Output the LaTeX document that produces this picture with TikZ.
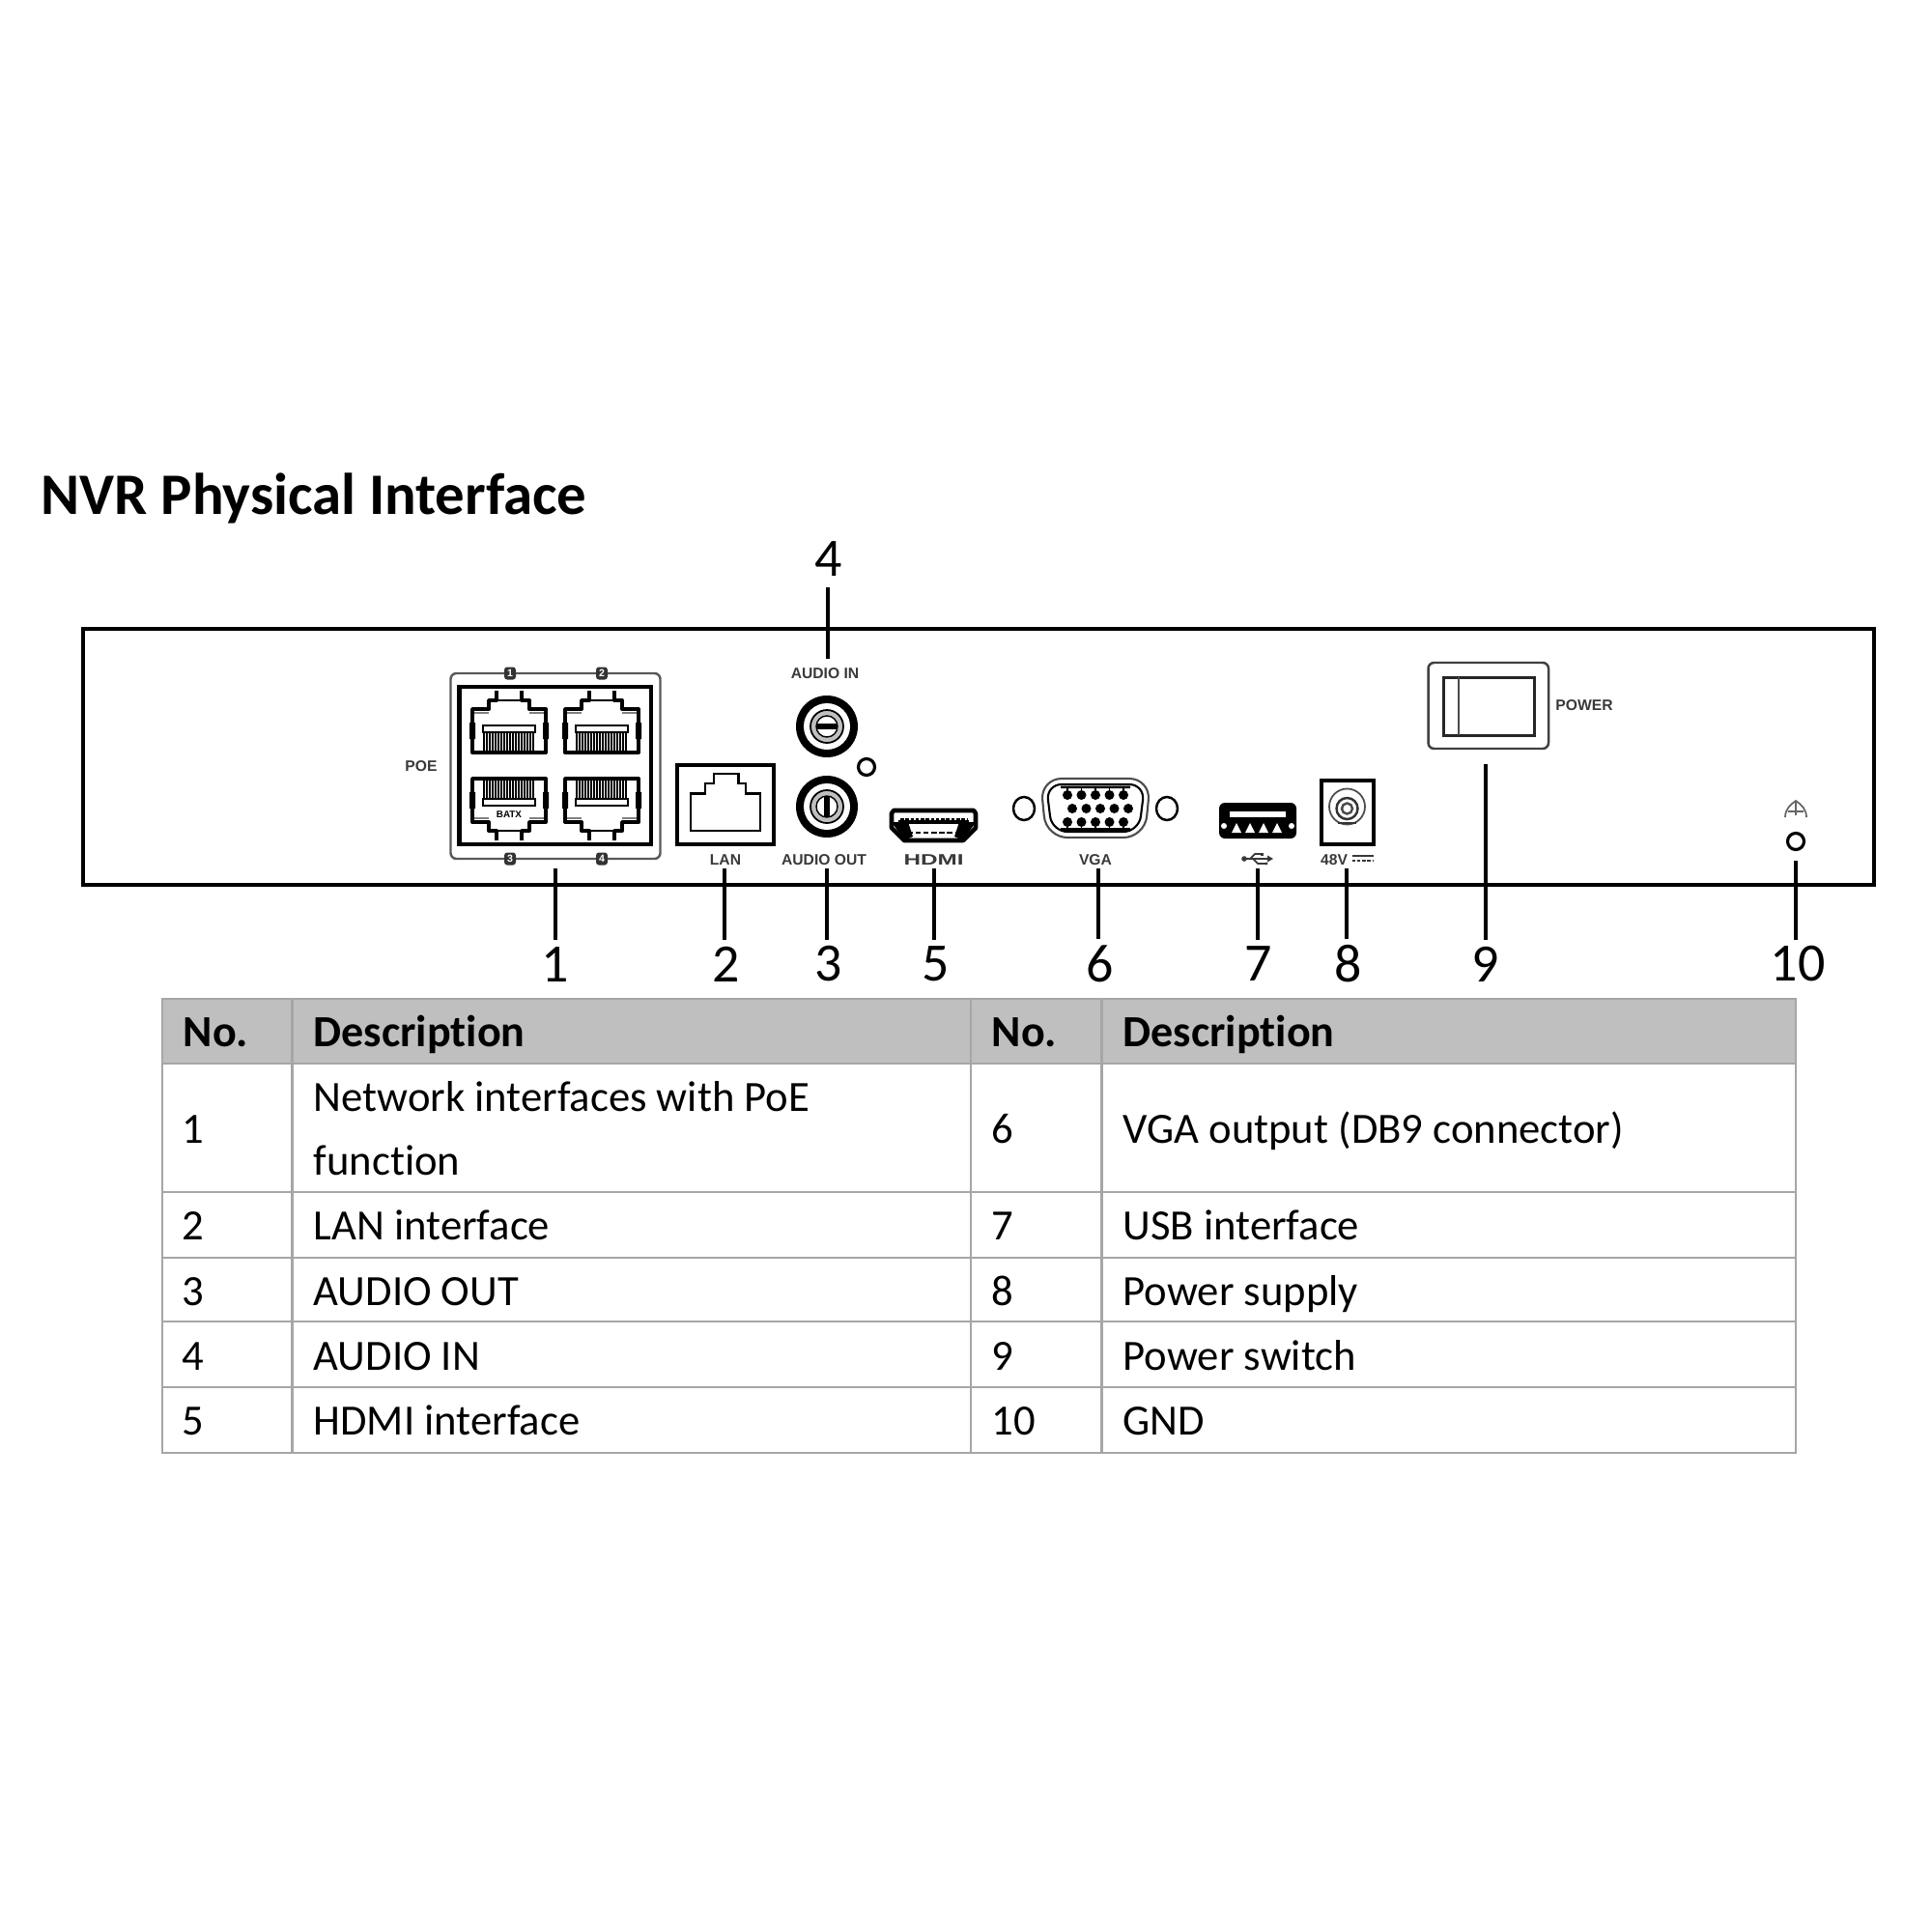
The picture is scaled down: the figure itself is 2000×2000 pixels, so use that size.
\documentclass[tikz,border=0pt]{standalone}
\usepackage{fontspec}
\setmainfont{Carlito}[Ligatures=NoCommon]
\newfontfamily\plate{Liberation Sans}
\usetikzlibrary{positioning}
\definecolor{platetext}{HTML}{3C3838}
\definecolor{rulegray}{HTML}{A6A6A6}
\definecolor{headgray}{HTML}{BFBFBF}

\tikzset{
  rjport/.pic={
    \draw[black,line width=1.1pt,line join=round] (-13,-32) -- (-13,-22) -- (-21,-22) -- (-21,-13) -- (-38,-13)
      -- (-38,32) -- (38,32) -- (38,-13) -- (21,-13) -- (21,-22) -- (13,-22) -- (13,-32);
    \draw[black,line width=.6pt] (-13,-22) -- (13,-22);
    \draw[gray,line width=.7pt] (-36,-9) -- (-21,-9) (21,-9) -- (36,-9);
    \fill[black] (-41,1) rectangle (-35,18) (35,1) rectangle (41,18);
    \draw[black,line width=.6pt] (-27,4) rectangle (27,11);
    \foreach \p in {-26,-23,...,26}
      \draw[black,line width=.62pt] (\p,11) -- (\p,30);
  },
  jack/.pic={
    \fill[black] (0,0) circle (32);
    \fill[white] (0,0) circle (24);
    \filldraw[fill=gray!50,draw=black,line width=.5pt] (0,0) circle (17);
    \filldraw[fill=white,draw=black,line width=.4pt] (0,0) circle (11);
    \fill[black] (-11,-3) rectangle (11,3);
  },
}

\begin{document}
\begin{tikzpicture}[
  x=0.01cm,y=-0.01cm,
  panel/.style={draw=black,line width=1.2pt},
  darkline/.style={draw=black,line width=1.3pt},
  softline/.style={draw=black!75,line width=.7pt,rounded corners=.6mm},
  ring/.style={draw=black,line width=.9pt},
  leader/.style={draw=black,line width=1.05pt},
  num/.style={font=\fontsize{15.9}{16}\selectfont,inner sep=0pt,outer sep=.07cm},
  tag/.style={font=\plate\bfseries\fontsize{4.45}{5}\selectfont,text=platetext,inner sep=0pt},
  portno/.style={font=\plate\bfseries\fontsize{3}{3}\selectfont,text=white,fill=black!80,rounded corners=.3mm,
    inner sep=0pt,minimum width=.12cm,minimum height=.13cm},
  cell/.style={font=\fontsize{12.7}{13}\selectfont,anchor=base west,inner sep=0pt},
  headcell/.style={cell,font=\bfseries\fontsize{13.1}{14}\selectfont},
  tabline/.style={draw=rulegray,line width=.75pt},
]
\useasboundingbox (0,0) rectangle (2000,2000);

\node (title) [anchor=base west,inner sep=0pt,font=\bfseries\fontsize{17.3}{18}\selectfont] at (42,532) {NVR Physical Interface};

\draw[panel] (86,651) rectangle (1940,916);

% poe block
\draw[softline,draw=black!65] (466.5,697) rectangle (683.5,889);
\draw[darkline] (475.5,711) rectangle (674,874);
\pic at (527,747) {rjport};
\pic at (623,747) {rjport};
\pic[yscale=-1] at (527,838) {rjport};
\pic[yscale=-1] at (623,838) {rjport};
\node (batx) [font=\plate\bfseries\fontsize{2.8}{3}\selectfont,fill=white,inner sep=.3pt] at (527,843) {BATX};
\node (poe1) [portno] at (528,697) {1};
\node (poe2) [portno] at (623,697) {2};
\node (poe3) [portno] at (528,889) {3};
\node (poe4) [portno] at (623,889) {4};
\node (poe) [tag] at (436,793) {POE};

% lan
\draw[darkline] (701,792) rectangle (801,874);
\draw[black,line width=.7pt] (715,821.5) -- (730,821.5) -- (730,811) -- (739,811) -- (739,801) -- (764.5,801)
  -- (764.5,811) -- (772,811) -- (772,821.5) -- (787,821.5) -- (787,860) -- (715,860) -- cycle;
\node (lan) [tag] at (751,890) {LAN};

% audio
\node (ain) [tag] at (854,697) {AUDIO IN};
\pic at (856,752) {jack};
\pic[rotate=90] at (856,835) {jack};
\draw[ring] (897,794) circle (8.5);
\node (aout) [tag] at (853,890) {AUDIO OUT};

% hdmi
\draw[black,line width=1.3pt,line join=round,fill=white] (925,839) -- (1008,839) -- (1010,842) -- (1010,857)
  -- (997,870) -- (936,870) -- (923,857) -- (923,842) -- cycle;
\draw[black,line width=.9pt] (930,851) -- (1003,851);
\draw[black,line width=.7pt,dash pattern=on 1pt off .5pt] (932,848) -- (1001,848);
\draw[black,line width=.7pt,dash pattern=on 1.5pt off .8pt] (940,862) -- (993,862);
\fill[black] (923,851) -- (940,851) -- (945,866) -- (936,870) -- cycle;
\fill[black] (1010,851) -- (993,851) -- (988,866) -- (997,870) -- cycle;
\node (hdmi) [tag,xscale=1.55] at (966.5,890) {HDMI};

% vga
\draw[black!70,line width=.6pt,rounded corners=2.2mm] (1077,806) -- (1191,806) -- (1185,867) -- (1083,867) -- cycle;
\draw[black,line width=.6pt,rounded corners=1.6mm] (1083,812) -- (1185,812) -- (1179,861) -- (1089,861) -- cycle;
\fill[black] (1098,813.5) rectangle (1170,816) (1098,857) rectangle (1170,860);
\foreach \k in {-2,...,2} {
  \fill[black] (1134+\k*14.5,823) circle (5);
  \fill[black] (1139+\k*14.5,837) circle (5);
  \fill[black] (1134+\k*14.5,851) circle (5);
  \draw[black,line width=.4pt] (1134+\k*14.5,816) -- (1134+\k*14.5,823) (1134+\k*14.5,851) -- (1134+\k*14.5,858);
}
\draw[black,line width=.7pt] (1060,837) ellipse (11 and 12);
\draw[black,line width=.7pt] (1208,837) ellipse (11 and 12);
\node (vga) [tag] at (1134,890) {VGA};

% usb
\fill[black,rounded corners=.6mm] (1262,831) rectangle (1342,868);
\fill[white] (1273,840) rectangle (1331,846);
\foreach \u in {1280,1294,1308,1322}
  \fill[white] (\u-5,862) -- (\u,852) -- (\u+5,862) -- cycle;
\fill[white] (1267,855) circle (3) (1337,855) circle (3);
\fill[platetext] (1288,889) circle (2.8);
\draw[platetext,line width=.5pt] (1288,889) -- (1312,889);
\fill[platetext] (1312,885.5) -- (1318,889) -- (1312,892.5) -- cycle;
\draw[platetext,line width=.5pt] (1294,889) -- (1299,884) -- (1307,884) (1297,889) -- (1302,894) -- (1311,894);
\fill[platetext] (1305,882.5) rectangle (1308,885.5);
\fill[platetext] (1311,894) circle (1.6);

% power in
\draw[darkline] (1368,808) rectangle (1422,874);
\draw[black!70,line width=.5pt] (1394.5,835) circle (18.5);
\draw[black!80,line width=.7pt] (1394.5,837) circle (11);
\draw[black!70,line width=.7pt] (1394.5,837) circle (5.5);
\draw[black!80,line width=.7pt] (1385,852) -- (1404,852);
\node (dc) [tag] at (1381,890) {48V};
\draw[platetext,line width=.45pt] (1399.5,886) -- (1422,886);
\draw[platetext,line width=.55pt,dash pattern=on 1pt off .5pt] (1399.5,891) -- (1422,891);

% switch
\draw[softline] (1478.5,686) rectangle (1603,775);
\draw[black!85,line width=.85pt] (1494,701) rectangle (1588,761);
\draw[black!70,line width=.6pt] (1510,701) -- (1510,761);
\node (power) [tag] at (1640,730) {POWER};

% ground
\draw[ring] (1859,871) circle (8.5);
\draw[black!60,line width=.5pt] (1848,846) .. controls (1848,838) and (1853,833) .. (1859,829)
  .. controls (1865,833) and (1870,838) .. (1870,846);
\draw[black!60,line width=.5pt] (1859,829) -- (1859,844) (1851,840) -- (1867,840);

% leaders and numbers
\foreach \n/\x/\nx/\yend in {1/575/575/899,2/750/752/899,3/856/858/899,5/967/969/899,6/1137/1139/899,
    7/1302/1303/899,8/1394/1396/899,9/1538/1538/791,10/1859/1861/891} {
  \node (n\n) [num] at (\nx,998) {\n};
  \coordinate (c\n) at (\x,\yend);
  \draw[leader] (n\n.north -| c\n) -- (c\n);
}
\node (n4) [num] at (858,579) {4};
\coordinate (c4) at (857,682);
\draw[leader,shorten <=.04cm] (n4.south -| c4) -- (c4);

% table
\fill[headgray] (168,1034) rectangle (1859,1101);
\draw[tabline] (168,1034) rectangle (1859,1504);
\foreach \y in {1101,1234,1302,1368,1436}
  \draw[tabline] (168,\y) -- (1859,\y);
\foreach \x in {302.5,1005,1140.5}
  \draw[tabline] (\x,1034) -- (\x,1504);

\node (hno) [headcell] at (189,1083) {No.};
\node (hdesc) [headcell] at (324,1083) {Description};
\node (hnob) [headcell] at (1026,1083) {No.};
\node (hdescb) [headcell] at (1162,1083) {Description};

\node (r1a) [cell] at (188,1183) {1};
\node (r1b) [cell] at (324,1150) {Network interfaces with PoE};
\node (r1c) [cell] at (324,1216) {function};
\node (r1d) [cell] at (1026,1183) {6};
\node (r1e) [cell] at (1162,1183) {VGA output (DB9 connector)};
\foreach \row/\y/\left/\ltext/\right/\rtext in {
  2/1283/2/LAN interface/7/USB interface,
  3/1351/3/AUDIO OUT/8/Power supply,
  4/1418/4/AUDIO IN/9/Power switch,
  5/1485/5/HDMI interface/10/GND} {
  \node (r\row a) [cell] at (188,\y) {\left};
  \node (r\row b) [cell] at (324,\y) {\ltext};
  \node (r\row d) [cell] at (1026,\y) {\right};
  \node (r\row e) [cell] at (1162,\y) {\rtext};
}
\end{tikzpicture}
\end{document}
